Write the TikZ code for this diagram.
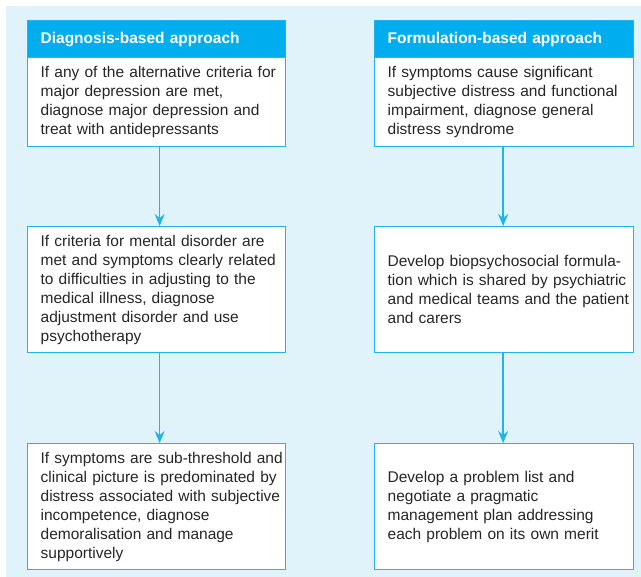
\documentclass[tikz,border=0pt]{standalone}
\usepackage{fontspec}
\setmainfont{Liberation Sans}
\usetikzlibrary{arrows.meta}
\definecolor{bgblue}{HTML}{E0F2FA}
\definecolor{cyanline}{HTML}{1EB4EE}
\definecolor{cyanfill}{HTML}{00AEEF}
\definecolor{txtgrey}{HTML}{262626}
\tikzset{
  body/.style={draw=cyanline, line width=1.3pt, fill=white, anchor=north west,
    inner xsep=13pt, inner ysep=0pt, align=left, text=txtgrey,
    font=\fontsize{15.5pt}{19pt}\selectfont},
  header/.style={draw=cyanline, line width=1.3pt, fill=cyanfill, anchor=north west,
    inner xsep=13pt, inner ysep=0pt, align=left, text=white, minimum height=37pt,
    font=\fontsize{15.5pt}{19pt}\selectfont\bfseries},
  flow/.style={draw=cyanline, line width=1.4pt, -{Stealth[length=12pt,width=10pt,inset=4pt]}}
}
\begin{document}
\begin{tikzpicture}[x=1pt,y=-1pt]
\useasboundingbox (0,0) rectangle (641,577);
\fill[white] (0,0) rectangle (641,577);
\fill[bgblue] (6,6) rectangle (641,577);
% left column
\node[header, text width=232pt] (lh) at (27,20) {\mbox{Diagnosis-based approach}};
\node[body, text width=232pt, minimum height=89pt] (l1) at (27,57) {\mbox{If any of the alternative criteria for}\\\mbox{major depression are met,}\\\mbox{diagnose major depression and}\\\mbox{treat with antidepressants}};
\node[body, text width=232pt, minimum height=126pt] (l2) at (27,226) {\mbox{If criteria for mental disorder are}\\\mbox{met and symptoms clearly related}\\\mbox{to difficulties in adjusting to the}\\\mbox{medical illness, diagnose}\\\mbox{adjustment disorder and use}\\\mbox{psychotherapy}};
\node[body, text width=232pt, minimum height=126pt] (l3) at (27,443) {\mbox{If symptoms are sub-threshold and}\\\mbox{clinical picture is predominated by}\\\mbox{distress associated with subjective}\\\mbox{incompetence, diagnose}\\\mbox{demoralisation and manage}\\\mbox{supportively}};
% right column
\node[header, text width=233pt] (rh) at (374,20) {\mbox{Formulation-based approach}};
\node[body, text width=233pt, minimum height=89pt] (r1) at (374,57) {\mbox{If symptoms cause significant}\\\mbox{subjective distress and functional}\\\mbox{impairment, diagnose general}\\\mbox{distress syndrome}};
\node[body, text width=233pt, minimum height=126pt] (r2) at (374,226) {\mbox{Develop biopsychosocial formula-}\\\mbox{tion which is shared by psychiatric}\\\mbox{and medical teams and the patient}\\\mbox{and carers}};
\node[body, text width=233pt, minimum height=126pt] (r3) at (374,443) {\mbox{Develop a problem list and}\\\mbox{negotiate a pragmatic}\\\mbox{management plan addressing}\\\mbox{each problem on its own merit}};
% arrows
\draw[flow] ([xshift=3pt]l1.south) -- ([xshift=3pt]l2.north);
\draw[flow] ([xshift=3pt]l2.south) -- ([xshift=3pt]l3.north);
\draw[flow] ([xshift=-1pt]r1.south) -- ([xshift=-1pt]r2.north);
\draw[flow] ([xshift=-1pt]r2.south) -- ([xshift=-1pt]r3.north);
\end{tikzpicture}
\end{document}
